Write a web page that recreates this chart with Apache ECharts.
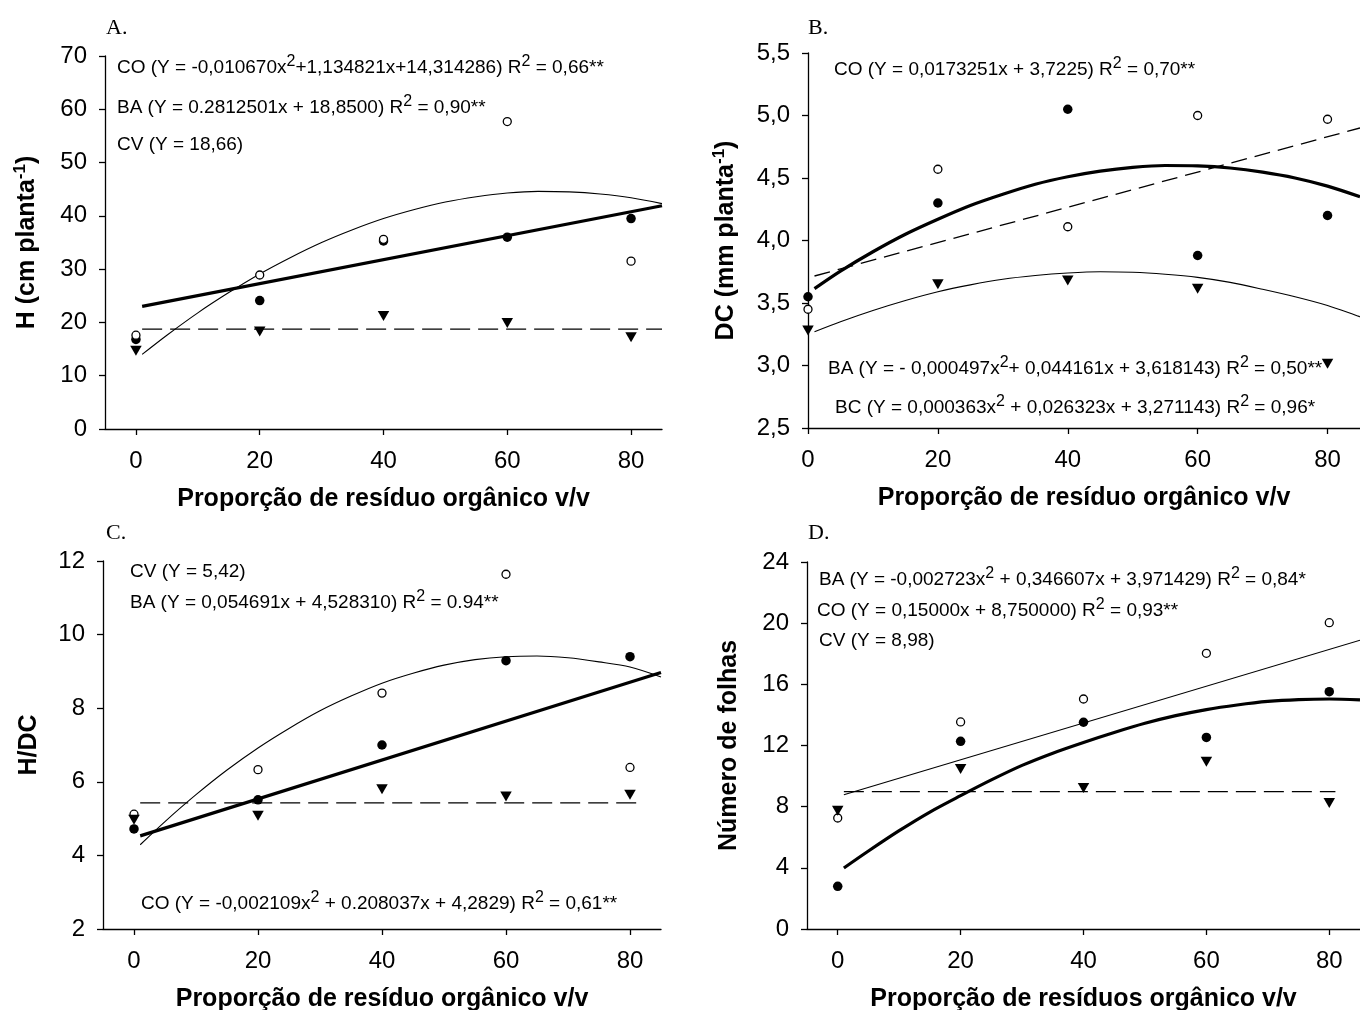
<!DOCTYPE html>
<html>
<head>
<meta charset="utf-8">
<script src="https://cdn.jsdelivr.net/npm/echarts@6/dist/echarts.min.js"></script>
<style>
html, body { margin: 0; padding: 0; background: #fff; }
#chart { width: 1360px; height: 1010px; }
</style>
</head>
<body>
<div id="chart"></div>
<script>
// proporção de resíduo (x) e pontos das curvas ajustadas
var doses = [0, 20, 40, 60, 80];
var xTicks = [0, 20, 40, 60, 80];
var fitX = [1, 5, 10, 15, 20, 25, 30, 35, 40, 45, 50, 55, 60, 65, 70, 75, 80, 85];
var lineX = [1, 85];
var lineXShort = [1, 81];

// A. altura H
var aOpen = [17.6, 28.9, 35.6, 57.7, 31.5];
var aFilled = [16.8, 24.1, 35.3, 36.0, 39.5];
var aTri = [14.7, 18.3, 21.2, 19.9, 17.2];
var aThin = [14.0, 17.6, 21.8, 25.6, 29.1, 32.2, 35.0, 37.4, 39.5, 41.2, 42.6, 43.6, 44.3, 44.6, 44.5, 44.1, 43.4, 42.3];
var aThick = [23.0, 41.9];
var aDash = [18.75, 18.75];

// B. diâmetro do coleto DC
var bOpen = [3.45, 4.57, 4.11, 5.00, 4.97];
var bFilled = [3.55, 4.30, 5.05, 3.88, 4.20];
var bTri = [3.28, 3.65, 3.68, 3.615, 3.015];
var bThick = [3.615, 3.755, 3.91, 4.05, 4.17, 4.28, 4.37, 4.45, 4.51, 4.555, 4.585, 4.60, 4.597, 4.58, 4.547, 4.50, 4.435, 4.35];
var bThin = [3.27, 3.35, 3.44, 3.52, 3.59, 3.645, 3.69, 3.72, 3.74, 3.75, 3.746, 3.73, 3.705, 3.665, 3.61, 3.55, 3.48, 3.39];
var bDash = [3.716, 4.90];

// C. relação H/DC
var cOpen = [5.12, 6.33, 8.41, 11.64, 6.39];
var cFilled = [4.72, 5.51, 7.0, 9.29, 9.40];
var cTri = [4.97, 5.08, 5.80, 5.60, 5.65];
var cThin = [4.29, 4.92, 5.65, 6.32, 6.92, 7.45, 7.93, 8.33, 8.68, 8.95, 9.17, 9.32, 9.40, 9.42, 9.37, 9.26, 9.12, 8.85];
var cThick = [4.53, 8.97];
var cDash = [5.43, 5.43];

// D. número de folhas
var dOpen = [7.26, 13.54, 15.04, 18.03, 20.03];
var dFilled = [2.79, 12.27, 13.52, 12.53, 15.52];
var dTri = [7.74, 10.46, 9.22, 10.94, 8.24];
var dThick = [3.99, 5.10, 6.43, 7.65, 8.72, 9.75, 10.7, 11.5, 12.2, 12.85, 13.45, 13.95, 14.35, 14.65, 14.88, 15.0, 15.04, 14.98];
var dThin = [8.78, 18.88];
var dDash = [8.98, 8.98];

var SANS = '"Liberation Sans", Arial, sans-serif';
var SERIF = '"Liberation Serif", "Times New Roman", serif';
var xTitle = 'Proporção de resíduo orgânico v/v';

function pairs(xs, ys) {
  return xs.map(function (x, i) { return [x, ys[i]]; });
}

function xAxisFor(gi, min, title) {
  return {
    gridIndex: gi, type: 'value', min: min, max: 85,
    axisLine: { show: true, onZero: false, lineStyle: { color: '#000', width: 1.3 } },
    axisTick: { show: true, length: 6, customValues: xTicks, lineStyle: { color: '#000', width: 1.3 } },
    axisLabel: { customValues: xTicks, margin: 20, color: '#000', fontSize: 24, fontFamily: SANS },
    splitLine: { show: false },
    name: title, nameLocation: 'middle', nameGap: 58,
    nameTextStyle: { color: '#000', fontSize: 25, fontWeight: 'bold', fontFamily: SANS }
  };
}

function yAxisFor(gi, min, max, step, name, gap, comma) {
  return {
    gridIndex: gi, type: 'value', min: min, max: max, interval: step,
    axisLine: { show: true, onZero: false, lineStyle: { color: '#000', width: 1.3 } },
    axisTick: { show: true, length: 6, lineStyle: { color: '#000', width: 1.3 } },
    axisLabel: {
      margin: 18, color: '#000', fontSize: 24, fontFamily: SANS,
      formatter: function (v) { return comma ? v.toFixed(1).replace('.', ',') : String(v); }
    },
    splitLine: { show: false },
    name: name, nameLocation: 'middle', nameRotate: 90, nameGap: gap,
    nameTextStyle: {
      color: '#000', fontSize: 25, fontWeight: 'bold', fontFamily: SANS,
      rich: { s: { color: '#000', fontSize: 17, fontWeight: 'bold', fontFamily: SANS, padding: [0, 0, 14, 0] } }
    }
  };
}

function curve(gi, xs, ys, kind, dash) {
  var w = kind === 'thick' ? 3.2 : (kind === 'dash' ? 1.3 : 1.1);
  return {
    type: 'line', xAxisIndex: gi, yAxisIndex: gi, data: pairs(xs, ys),
    symbol: 'none', showSymbol: false, smooth: xs.length > 2 ? 0.3 : false, silent: true, z: 2,
    lineStyle: { color: '#000', width: w, type: kind === 'dash' ? dash : 'solid', opacity: 1 }
  };
}

function dots(gi, ys, kind) {
  var s = {
    type: 'scatter', xAxisIndex: gi, yAxisIndex: gi, data: pairs(doses, ys), silent: true, z: 3
  };
  if (kind === 'open') {
    s.symbol = 'circle'; s.symbolSize = 8;
    s.itemStyle = { color: '#fff', borderColor: '#000', borderWidth: 1.3, opacity: 1 };
  } else if (kind === 'filled') {
    s.symbol = 'circle'; s.symbolSize = 9.5;
    s.itemStyle = { color: '#000', opacity: 1 };
  } else {
    s.symbol = 'triangle'; s.symbolRotate = 180; s.symbolSize = [11.5, 10];
    s.itemStyle = { color: '#000', opacity: 1 };
  }
  return s;
}

function note(x, y, text) {
  return {
    type: 'text', x: x, y: y, silent: true,
    style: {
      text: text, fill: '#000', fontSize: 19, fontFamily: SANS,
      align: 'left', verticalAlign: 'middle', lineHeight: 30,
      rich: { s: { fill: '#000', fontSize: 16, fontFamily: SANS, padding: [0, 0, 12, 0] } }
    }
  };
}

function letter(x, y, text) {
  return {
    type: 'text', x: x, y: y, silent: true,
    style: { text: text, fill: '#000', fontSize: 22, fontFamily: SERIF, align: 'left', verticalAlign: 'middle' }
  };
}

var longDash = [20, 8];
var shortDash = [16, 8];

var option = {
  backgroundColor: '#fff',
  animation: false,
  grid: [
    { left: 105, top: 56, width: 557, height: 373, outerBoundsMode: 'none' },
    { left: 808, top: 53, width: 552, height: 375, outerBoundsMode: 'none' },
    { left: 103, top: 561, width: 558, height: 368, outerBoundsMode: 'none' },
    { left: 807, top: 562, width: 553, height: 367, outerBoundsMode: 'none' }
  ],
  xAxis: [
    xAxisFor(0, -5, xTitle),
    xAxisFor(1, 0, xTitle),
    xAxisFor(2, -5, xTitle),
    xAxisFor(3, -5, 'Proporção de resíduos orgânico v/v')
  ],
  yAxis: [
    yAxisFor(0, 0, 70, 10, 'H (cm planta{s|-1})', 62, false),
    yAxisFor(1, 2.5, 5.5, 0.5, 'DC (mm planta{s|-1})', 66, true),
    yAxisFor(2, 2, 12, 2, 'H/DC', 61, false),
    yAxisFor(3, 0, 24, 4, 'Número de folhas', 65, false)
  ],
  series: [
    curve(0, fitX, aThin, 'thin'),
    curve(0, lineX, aThick, 'thick'),
    curve(0, lineX, aDash, 'dash', longDash),
    dots(0, aFilled, 'filled'),
    dots(0, aOpen, 'open'),
    dots(0, aTri, 'tri'),

    curve(1, fitX, bThin, 'thin'),
    curve(1, fitX, bThick, 'thick'),
    curve(1, lineX, bDash, 'dash', shortDash),
    dots(1, bFilled, 'filled'),
    dots(1, bOpen, 'open'),
    dots(1, bTri, 'tri'),

    curve(2, fitX, cThin, 'thin'),
    curve(2, lineX, cThick, 'thick'),
    curve(2, lineXShort, cDash, 'dash', longDash),
    dots(2, cFilled, 'filled'),
    dots(2, cOpen, 'open'),
    dots(2, cTri, 'tri'),

    curve(3, lineX, dThin, 'thin'),
    curve(3, fitX, dThick, 'thick'),
    curve(3, lineXShort, dDash, 'dash', longDash),
    dots(3, dFilled, 'filled'),
    dots(3, dOpen, 'open'),
    dots(3, dTri, 'tri')
  ],
  graphic: [
    letter(106, 28, 'A.'),
    letter(808, 28, 'B.'),
    letter(106, 533, 'C.'),
    letter(808, 533, 'D.'),

    note(117, 68, 'CO (Y = -0,010670x{s|2}+1,134821x+14,314286) R{s|2} = 0,66**'),
    note(117, 108, 'BA (Y = 0.2812501x + 18,8500) R{s|2} = 0,90**'),
    note(117, 145, 'CV (Y = 18,66)'),

    note(834, 70, 'CO (Y = 0,0173251x + 3,7225) R{s|2} = 0,70**'),
    note(828, 369, 'BA (Y = - 0,000497x{s|2}+ 0,044161x + 3,618143) R{s|2} = 0,50**'),
    note(835, 408, 'BC (Y = 0,000363x{s|2} + 0,026323x + 3,271143) R{s|2} = 0,96*'),

    note(130, 572, 'CV (Y = 5,42)'),
    note(130, 603, 'BA (Y = 0,054691x + 4,528310) R{s|2} = 0.94**'),
    note(141, 904, 'CO (Y = -0,002109x{s|2} + 0.208037x + 4,2829) R{s|2} = 0,61**'),

    note(819, 580, 'BA (Y = -0,002723x{s|2} + 0,346607x + 3,971429) R{s|2} = 0,84*'),
    note(817, 611, 'CO (Y = 0,15000x + 8,750000) R{s|2} = 0,93**'),
    note(819, 641, 'CV (Y = 8,98)')
  ]
};

var chart = echarts.init(document.getElementById('chart'), null, { renderer: 'canvas' });
chart.setOption(option);
</script>
</body>
</html>
